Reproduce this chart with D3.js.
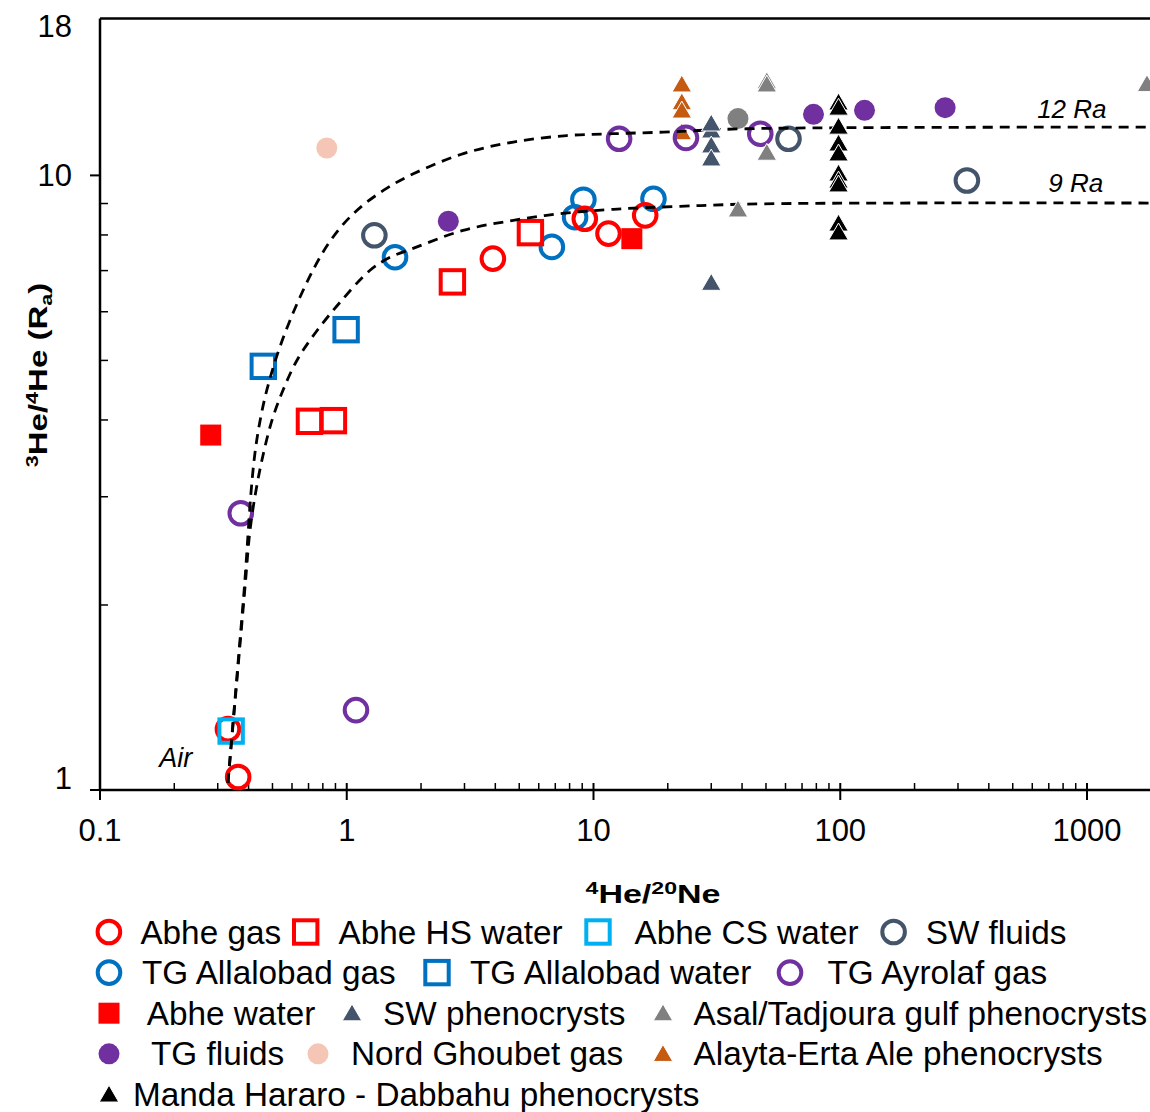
<!DOCTYPE html>
<html><head><meta charset="utf-8">
<script src="https://cdn.jsdelivr.net/npm/d3@7"></script>
<style>
body{margin:0;background:#fff}
text{font-family:"Liberation Sans",Arial,Helvetica,sans-serif;fill:#000}
</style>
</head><body>
<svg id="chart" width="1150" height="1112"></svg>
<script>
// ---------- data: [4He/20Ne, 3He/4He (Ra)] ----------
const abheGas = [[0.363,1.05],[0.330,1.256],[3.91,7.32],[9.22,8.50],[11.5,8.04],[16.2,8.61]];
const abheHSWater = [[2.68,6.71],[5.55,8.07],[0.706,3.98],[0.883,3.99]];
const abheCSWater = [[0.34,1.247]];
const swFluids = [[1.294,7.99],[61.7,11.47],[326,9.81]];
const tgAllalobadGas = [[1.569,7.36],[6.78,7.65],[8.42,8.55],[9.1,9.13],[17.5,9.16]];
const tgAllalobadWater = [[0.459,4.89],[0.994,5.61]];
const tgAyrolafGas = [[0.372,2.82],[1.09,1.349],[12.7,11.47],[23.7,11.51],[47.4,11.69]];
const abheWater = [[0.281,3.78],[14.3,7.89]];
const swPhenocrysts = [[30,11.75],[30,12.06],[30,11.11],[30,10.58],[30,6.64]];
const asalPhenocrysts = [[50.4,14.13],[50.4,13.96],[50.4,10.81],[38.5,8.74],[1750,13.98]];
const tgFluids = [[2.58,8.42],[77.9,12.57],[125.4,12.76],[266,12.89]];
const nordGhoubetGas = [[0.83,11.08]];
const alaytaPhenocrysts = [[22.8,13.96],[22.8,13.06],[22.8,12.66],[22.8,11.67]];
const mandaPhenocrysts = [[98.4,13.05],[98.4,12.80],[98.4,11.92],[98.4,11.19],[98.4,10.78],[98.4,10.0],[98.4,9.741],[98.4,9.60],[98.4,8.29],[98.4,8.02]];
const grayCircle = [[38.5,12.37]];

// mixing curves air - mantle
const curve12Ra = [[0.330,1.027],[0.381,2.037],[0.4317,3.708],[0.504,4.878],[0.6467,6.34],[0.842,7.74],[1.064,8.665],[1.407,9.453],[1.862,10.06],[2.97,10.85],[4.735,11.33],[7.795,11.61],[12.04,11.69],[19.2,11.76],[41.8,11.91],[1800,11.98]];
const curve9Ra = [[0.330,1.027],[0.387,2.138],[0.4055,2.647],[0.4289,3.075],[0.4578,3.505],[0.498,3.997],[0.5516,4.471],[0.6287,5.004],[0.744,5.535],[0.9394,6.216],[1.243,7.009],[1.498,7.357],[1.857,7.608],[2.961,8.138],[4.735,8.451],[7.53,8.675],[12.04,8.807],[22.44,8.906],[48.7,8.99],[1800,9.016]];
const curveLabels = [{text:"12 Ra", at:[628,12.0]},{text:"9 Ra", at:[697,9.0]}];
const airLabel = {text:"Air", at:[0.2,1.0]};

const xTickValues = [0.1,1,10,100,1000];
const xTickLabels = ["0.1","1","10","100","1000"];
const yTickValues = [1,10,18];
const yTickLabels = ["1","10","18"];
const yMinorTicks = [2,3,4,5,6,7,8,9];

// ---------- styles ----------
const RED="#ff0000", CYAN="#00b0f0", SLATE="#44546a", BLUE="#0070c0", PURPLE="#7030a0",
      GRAY="#808080", PEACH="#f5c6b6", ORANGE="#c55a11", BLACK="#000000";

const series = {
  abheGas:{data:abheGas, shape:"ocircle", color:RED, label:"Abhe gas"},
  abheHSWater:{data:abheHSWater, shape:"osquare", color:RED, label:"Abhe HS water"},
  abheCSWater:{data:abheCSWater, shape:"osquare", color:CYAN, label:"Abhe CS water"},
  swFluids:{data:swFluids, shape:"ocircle", color:SLATE, label:"SW fluids"},
  tgAllalobadGas:{data:tgAllalobadGas, shape:"ocircle", color:BLUE, label:"TG Allalobad gas"},
  tgAllalobadWater:{data:tgAllalobadWater, shape:"osquare", color:BLUE, label:"TG Allalobad water"},
  tgAyrolafGas:{data:tgAyrolafGas, shape:"ocircle", color:PURPLE, label:"TG Ayrolaf gas"},
  abheWater:{data:abheWater, shape:"fsquare", color:RED, label:"Abhe water"},
  swPhenocrysts:{data:swPhenocrysts, shape:"tri", color:SLATE, label:"SW phenocrysts"},
  asalPhenocrysts:{data:asalPhenocrysts, shape:"tri", color:GRAY, label:"Asal/Tadjoura gulf phenocrysts"},
  tgFluids:{data:tgFluids, shape:"fcircle", color:PURPLE, label:"TG fluids"},
  nordGhoubetGas:{data:nordGhoubetGas, shape:"fcircle", color:PEACH, label:"Nord Ghoubet gas"},
  alaytaPhenocrysts:{data:alaytaPhenocrysts, shape:"tri", color:ORANGE, label:"Alayta-Erta Ale phenocrysts"},
  mandaPhenocrysts:{data:mandaPhenocrysts, shape:"tri", color:BLACK, label:"Manda Hararo - Dabbahu phenocrysts"},
  grayCircle:{data:grayCircle, shape:"fcircle", color:GRAY, label:null}
};

const svg = d3.select("#chart");
const L=100, R=1150, T=18.5, B=790;
const x = d3.scaleLog().domain([0.1,1800]).range([L,R]);
const y = d3.scaleLog().domain([1,18]).range([B,T]);

const triPath = d3.symbol().type(d3.symbolTriangle).size(165)();

function drawMarker(g, shape, color){
  if(shape==="ocircle") g.append("circle").attr("r",11.3).attr("fill","none").attr("stroke",color).attr("stroke-width",4);
  else if(shape==="osquare") g.append("rect").attr("x",-11.7).attr("y",-11.7).attr("width",23.4).attr("height",23.4).attr("fill","none").attr("stroke",color).attr("stroke-width",4);
  else if(shape==="fsquare") g.append("rect").attr("x",-10.5).attr("y",-10.5).attr("width",21).attr("height",21).attr("fill",color);
  else if(shape==="fcircle") g.append("circle").attr("r",10.5).attr("fill",color);
  else if(shape==="tri") g.append("path").attr("d",triPath).attr("fill",color).attr("stroke","#fff").attr("stroke-width",1);
}

function drawSeries(key){
  const s = series[key];
  svg.append("g").selectAll("g").data(s.data).join("g")
    .attr("transform",d=>`translate(${x(d[0])},${y(d[1])})`)
    .each(function(){ drawMarker(d3.select(this), s.shape, s.color); });
}

// ---------- axes ----------
const axisG = svg.append("g").attr("stroke","#000");
axisG.append("line").attr("x1",L).attr("x2",R).attr("y1",T).attr("y2",T).attr("stroke-width",2.5);
axisG.append("line").attr("x1",L).attr("x2",L).attr("y1",T).attr("y2",B).attr("stroke-width",2.5);
axisG.append("line").attr("x1",L).attr("x2",R).attr("y1",B).attr("y2",B).attr("stroke-width",2.5);

const xMinor=[];
[0.1,1,10,100,1000].forEach(dec=>{for(let k=2;k<=9;k++){const v=dec*k; if(v<1800) xMinor.push(v);}});
axisG.selectAll(".xm").data(xMinor).join("line")
  .attr("x1",d=>x(d)).attr("x2",d=>x(d)).attr("y1",B).attr("y2",B-7).attr("stroke-width",1.5);
axisG.selectAll(".xM").data(xTickValues).join("line")
  .attr("x1",d=>x(d)).attr("x2",d=>x(d)).attr("y1",d=>d===0.1?B:B-7).attr("y2",B+10).attr("stroke-width",2);
axisG.selectAll(".ym").data(yMinorTicks).join("line")
  .attr("x1",L).attr("x2",L+8).attr("y1",d=>y(d)).attr("y2",d=>y(d)).attr("stroke-width",1.5);
axisG.selectAll(".yM").data([1,10]).join("line")
  .attr("x1",L-10).attr("x2",L).attr("y1",d=>y(d)).attr("y2",d=>y(d)).attr("stroke-width",2);

svg.append("g").selectAll("text").data(xTickValues).join("text")
  .attr("x",d=>x(d)).attr("y",B+51).attr("text-anchor","middle").attr("font-size",31)
  .text((d,i)=>xTickLabels[i]);
const yLabelNudge = {1:-12, 10:0, 18:7.5};
svg.append("g").selectAll("text").data(yTickValues).join("text")
  .attr("x",L-28).attr("y",d=>y(d)+yLabelNudge[d]).attr("dy","0.35em").attr("text-anchor","end").attr("font-size",31)
  .text((d,i)=>yTickLabels[i]);

const xt = svg.append("text").attr("text-anchor","middle").attr("font-weight","bold").attr("font-size",25)
  .attr("transform","translate(653,903) scale(1.36,1)");
xt.append("tspan").attr("font-size",17).attr("dy",-9).text("4");
xt.append("tspan").attr("dy",9).text("He/");
xt.append("tspan").attr("font-size",17).attr("dy",-9).text("20");
xt.append("tspan").attr("dy",9).text("Ne");

const yt = svg.append("text").attr("text-anchor","middle").attr("font-weight","bold").attr("font-size",26)
  .attr("transform","translate(47,375) rotate(-90) scale(1.27,1)");
yt.append("tspan").attr("font-size",17).attr("dy",-9).text("3");
yt.append("tspan").attr("dy",9).text("He/");
yt.append("tspan").attr("font-size",17).attr("dy",-9).text("4");
yt.append("tspan").attr("dy",9).text("He (R");
yt.append("tspan").attr("font-size",17).attr("dy",5).text("a");
yt.append("tspan").attr("dy",-5).text(")");

// ---------- markers (under curves) ----------
["alaytaPhenocrysts","nordGhoubetGas","grayCircle","swFluids","tgAllalobadGas","tgAllalobadWater",
 "abheHSWater","abheGas","abheCSWater","tgAyrolafGas"].forEach(drawSeries);

// ---------- mixing curves ----------
const line = d3.line().x(d=>x(d[0])).y(d=>y(d[1])).curve(d3.curveCatmullRom.alpha(0.5));
[curve12Ra, curve9Ra].forEach(c=>{
  svg.append("path").attr("d",line(c)).attr("fill","none").attr("stroke","#000")
    .attr("stroke-width",2.8).attr("stroke-dasharray","10,7");
});

// ---------- markers (over curves) ----------
["abheWater","tgFluids","swPhenocrysts","asalPhenocrysts","mandaPhenocrysts"].forEach(drawSeries);

const labelNudge = [-9,-12];
svg.append("g").selectAll("text").data(curveLabels).join("text")
  .attr("x",d=>x(d.at[0])).attr("y",(d,i)=>y(d.at[1])+labelNudge[i]).attr("font-size",26).attr("font-style","italic")
  .text(d=>d.text);
svg.append("text").attr("x",x(airLabel.at[0])-15).attr("y",y(airLabel.at[1])-23).attr("font-size",27)
  .attr("font-style","italic").text(airLabel.text);

// ---------- legend ----------
const legendRows = [
  [["abheGas",108.9,140.4],["abheHSWater",305.7,338.6],["abheCSWater",598,634.6],["swFluids",893.6,925.7]],
  [["tgAllalobadGas",109,142],["tgAllalobadWater",437,470],["tgAyrolafGas",790,827.5]],
  [["abheWater",109,146.8],["swPhenocrysts",352,383],["asalPhenocrysts",663,693.6]],
  [["tgFluids",109,151],["nordGhoubetGas",318,351],["alaytaPhenocrysts",663,693.6]],
  [["mandaPhenocrysts",109,133]]
];
const lg = svg.append("g");
legendRows.forEach((row,ri)=>{
  const cy = 932 + ri*40.6;
  row.forEach(([key,mx,tx])=>{
    const s = series[key];
    const g = lg.append("g").attr("transform",`translate(${mx},${cy + (s.shape==="tri"?2:0)})`);
    drawMarker(g, s.shape, s.color);
    lg.append("text").attr("x",tx).attr("y",cy+11.5).attr("font-size",33.3).text(s.label);
  });
});
</script>
</body></html>
